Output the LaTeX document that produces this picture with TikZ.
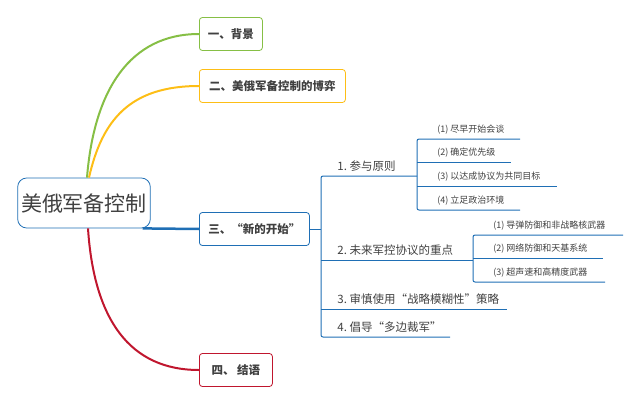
\documentclass[tikz,border=0pt]{standalone}
\usepackage{fontspec}
\setmainfont{Noto Sans CJK SC}
\usetikzlibrary{calc}
\definecolor{tblue}{HTML}{1F6FB5}
\definecolor{tgreen}{HTML}{86BF45}
\definecolor{torange}{HTML}{FDBE16}
\definecolor{tred}{HTML}{C0162E}
\definecolor{ttext}{HTML}{404040}
\tikzset{
    topic/.style={draw, rounded corners=3pt, thick, fill=white, text=ttext,
        font=\fontsize{11.5}{11.5}\selectfont\bfseries, inner xsep=6pt, anchor=west,
        minimum height=33pt, text depth=0pt},
    item/.style={text=ttext, font=\fontsize{11.5}{11.5}\selectfont, anchor=south west,
        inner sep=1pt},
    subitem/.style={text=ttext, font=\fontsize{9}{9}\selectfont, anchor=south west,
        inner sep=1pt},
    bline/.style={tblue, line width=1pt},
}
\begin{document}
\begin{tikzpicture}[x=1pt, y=-1pt, thick]
    \useasboundingbox (0,0) rectangle (641,407);

    \node[draw=tblue, rounded corners=9pt, fill=white, text=ttext, thick,
        font=\fontsize{21}{21}\selectfont, minimum width=132pt, minimum height=50pt]
        (root) at (84,203) {美俄军备控制};

    \node[topic, draw=tgreen, minimum width=63pt] (bg) at (199,34) {一、背景};
    \node[topic, draw=torange, minimum width=146pt] (game) at (199,86) {二、美俄军备控制的博弈};
    \node[topic, draw=tblue, minimum width=110pt] (new) at (199,229) {三、“新的开始”};
    \node[topic, draw=tred, minimum width=73pt] (end) at (199,370) {四、 结语};

    \draw[tgreen, line width=2pt] ($(root.north)+(3,0)$) .. controls (94,90) and (130,34) .. (bg.west);
    \draw[torange, line width=2pt] ($(root.north)+(5,0)$) .. controls (102,120) and (130,86) .. (game.west);
    \draw[tblue, line width=2.5pt] ($(root.south east)+(-8,0)$) .. controls (170,229) .. (new.west);
    \draw[tred, line width=2pt] ($(root.south)+(4,0)$) .. controls (94,320) and (130,370) .. (end.west);

    % second level
    \coordinate (s1) at (321,176);
    \coordinate (s2) at (321,260);
    \coordinate (s3) at (321,309);
    \coordinate (s4) at (321,337);
    \draw[bline] (new.east) -- (s1 |- new.east);
    \draw[bline, rounded corners=2pt] (417,176) -- (s1) -- (s4) -- (450,337);
    \draw[bline] (s2) -- (473,260);
    \draw[bline] (s3) -- (507,309);
    \node[item] (p1) at (336,173) {1.\ 参与原则};
    \node[item] (p2) at (336,257) {2.\ 未来军控协议的重点};
    \node[item] (p3) at (336,306) {3.\ 审慎使用“战略模糊性”策略};
    \node[item] (p4) at (336,334) {4.\ 倡导“多边裁军”};

    % third level
    \draw[bline, rounded corners=2pt] (520,139) -- (417,139) -- (417,210) -- (520,210);
    \draw[bline] (417,162) -- (511,162);
    \draw[bline] (417,186) -- (557,186);
    \node[subitem] (q1) at (436,136) {(1)\ 尽早开始会谈};
    \node[subitem] (q2) at (436,159) {(2)\ 确定优先级};
    \node[subitem] (q3) at (436,183) {(3)\ 以达成协议为共同目标};
    \node[subitem] (q4) at (436,207) {(4)\ 立足政治环境};

    \draw[bline, rounded corners=2pt] (623,235) -- (473,235) -- (473,282) -- (605,282);
    \draw[bline] (473,258) -- (603,258);
    \node[subitem] (r1) at (492,232) {(1)\ 导弹防御和非战略核武器};
    \node[subitem] (r2) at (492,255) {(2)\ 网络防御和天基系统};
    \node[subitem] (r3) at (492,279) {(3)\ 超声速和高精度武器};
\end{tikzpicture}
\end{document}
